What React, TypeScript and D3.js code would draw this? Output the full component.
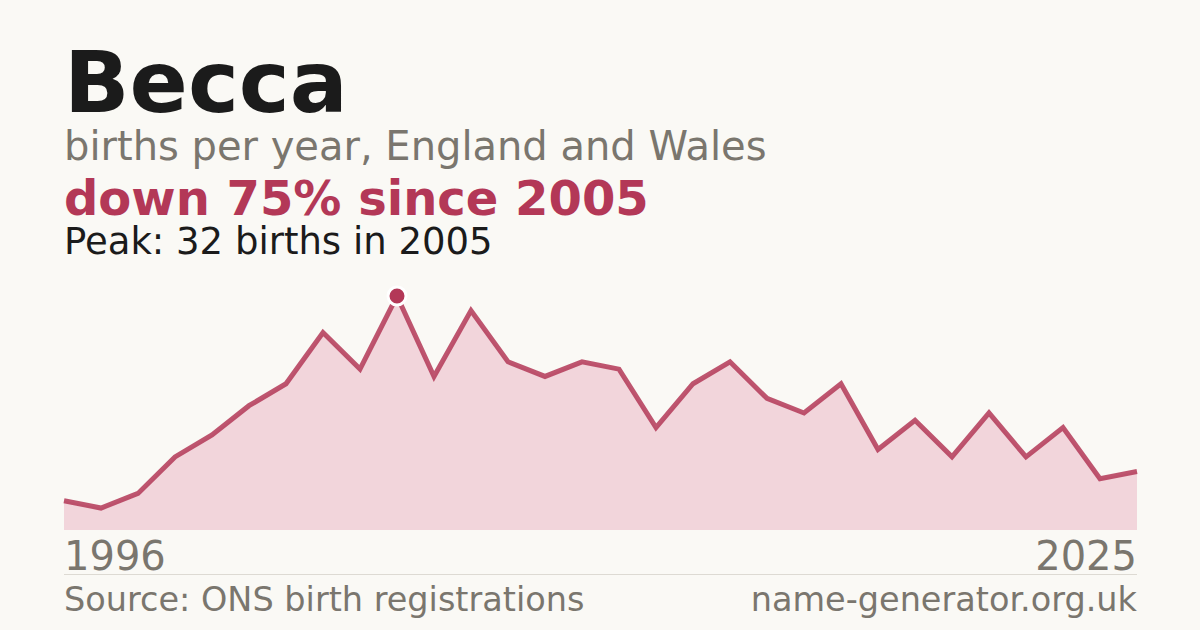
import React, { useEffect, useRef } from 'react';
import * as d3 from 'd3';

const years = d3.range(1996, 2026);
const births = [4, 3, 5, 10, 13, 17, 20, 27, 22, 32, 21, 30, 23, 21, 23, 22, 14, 20, 23, 18, 16, 20, 11, 15, 10, 16, 10, 14, 7, 8];

const name = 'Becca';
const subtitle = 'births per year, England and Wales';
const headline = 'down 75% since 2005';
const peakNote = 'Peak: 32 births in 2005';
const source = 'Source: ONS birth registrations';
const site = 'name-generator.org.uk';

const W = 1200;
const H = 630;
const FONT = '"DejaVu Sans", sans-serif';

const App: React.FC = () => {
  const svgRef = useRef<SVGSVGElement>(null);

  useEffect(() => {
    if (!svgRef.current) return;
    const svg = d3.select(svgRef.current);
    svg.selectAll('*').remove();

    svg.append('rect').attr('width', W).attr('height', H).attr('fill', '#faf9f5');

    const left = 64;
    const right = 1137;

    // Header texts
    const header = [
      { t: name, y: 112, size: 86, weight: 'bold', fill: '#1b1b1b' },
      { t: subtitle, y: 160, size: 40, weight: 'normal', fill: '#7a766e' },
      { t: headline, y: 215, size: 48, weight: 'bold', fill: '#b33857' },
      { t: peakNote, y: 254, size: 37, weight: 'normal', fill: '#1b1b1b' },
    ];
    header.forEach(h => {
      svg.append('text')
        .attr('x', left)
        .attr('y', h.y)
        .style('font-family', FONT)
        .style('font-size', `${h.size}px`)
        .style('font-weight', h.weight)
        .attr('fill', h.fill)
        .text(h.t);
    });

    const x = d3.scaleLinear().domain([years[0], years[years.length - 1]]).range([left, right]);
    const y = d3.scaleLinear().domain([0, d3.max(births)!]).range([530, 296]);

    const pts = years.map((yr, i) => ({ yr, v: births[i] }));

    const area = d3.area<{ yr: number; v: number }>()
      .x(d => x(d.yr))
      .y0(y(0))
      .y1(d => y(d.v));

    const line = d3.line<{ yr: number; v: number }>()
      .x(d => x(d.yr))
      .y(d => y(d.v));

    svg.append('path').datum(pts).attr('d', area).attr('fill', '#f2d5db');

    svg.append('path')
      .datum(pts)
      .attr('d', line)
      .attr('fill', 'none')
      .attr('stroke', '#b33857')
      .attr('stroke-opacity', 0.85)
      .attr('stroke-width', 5)
      .attr('stroke-linejoin', 'miter');

    // Peak marker
    const peakIdx = d3.maxIndex(births);
    svg.append('circle')
      .attr('cx', x(years[peakIdx]))
      .attr('cy', y(births[peakIdx]))
      .attr('r', 9)
      .attr('fill', '#b33857')
      .attr('stroke', '#ffffff')
      .attr('stroke-width', 3);

    // Year labels
    const axisLabels = [
      { t: String(years[0]), x: left, anchor: 'start' },
      { t: String(years[years.length - 1]), x: right, anchor: 'end' },
    ];
    axisLabels.forEach(a => {
      svg.append('text')
        .attr('x', a.x)
        .attr('y', 570)
        .attr('text-anchor', a.anchor)
        .style('font-family', FONT)
        .style('font-size', '40px')
        .attr('fill', '#7a766e')
        .text(a.t);
    });

    svg.append('line')
      .attr('x1', left).attr('x2', right)
      .attr('y1', 574.5).attr('y2', 574.5)
      .attr('stroke', '#dddad3')
      .attr('stroke-width', 1);

    svg.append('text')
      .attr('x', left)
      .attr('y', 611)
      .style('font-family', FONT)
      .style('font-size', '33.5px')
      .attr('fill', '#7a766e')
      .text(source);

    svg.append('text')
      .attr('x', right)
      .attr('y', 611)
      .attr('text-anchor', 'end')
      .style('font-family', FONT)
      .style('font-size', '33.5px')
      .attr('fill', '#7a766e')
      .text(site);
  }, []);

  return (
    <svg
      ref={svgRef}
      width={W}
      height={H}
      style={{ position: 'absolute', left: 0, top: 0, display: 'block' }}
    />
  );
};

export default App;
